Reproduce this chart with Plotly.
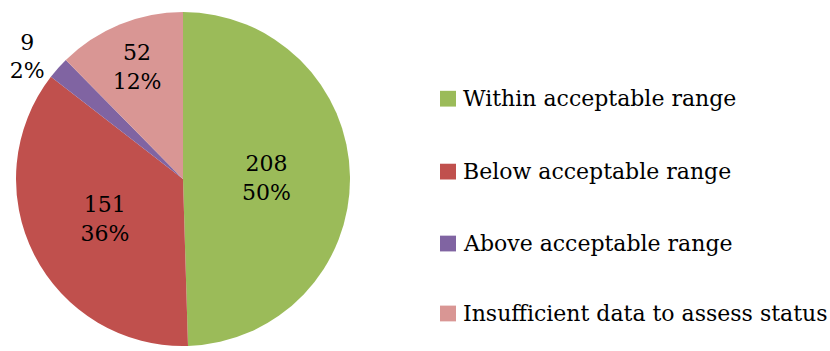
import plotly.graph_objects as go

labels = ["Within acceptable range", "Below acceptable range",
          "Above acceptable range", "Insufficient data to assess status"]
values = [208, 151, 9, 52]
colors = ["#9BBB59", "#C0504D", "#8064A2", "#D99694"]
text_positions = ["inside", "inside", "outside", "inside"]

W, H = 830, 351
M_TOP, M_BOT = 12, 0
plot_h = H - M_TOP - M_BOT


def py(ypx):
    return (H - M_BOT - ypx) / plot_h


fig = go.Figure()
fig.add_trace(go.Pie(
    labels=labels,
    values=values,
    sort=False,
    direction="clockwise",
    rotation=0,
    marker=dict(colors=colors, line=dict(width=0)),
    texttemplate="%{value}<br>%{percent:.0%}",
    textposition=text_positions,
    insidetextorientation="horizontal",
    textfont=dict(family="DejaVu Serif", size=22, color="black"),
    domain=dict(x=[13 / W, 353 / W], y=[0, 1]),
    showlegend=False,
    hoverinfo="label+value+percent",
))

# legend drawn beside the pie, one row per category
legend_rows_px = [100, 174, 247, 318]
shapes = []
annotations = []
for lab, col, ycen in zip(labels, colors, legend_rows_px):
    shapes.append(dict(type="rect", xref="paper", yref="paper",
                       x0=440 / W, x1=456 / W, y0=py(ycen + 8), y1=py(ycen - 8),
                       fillcolor=col, line=dict(width=0)))
    annotations.append(dict(text=lab, xref="paper", yref="paper",
                            x=461 / W, y=py(ycen), xanchor="left", yanchor="middle",
                            showarrow=False,
                            font=dict(family="DejaVu Serif", size=22, color="black")))

fig.update_layout(
    width=W, height=H,
    margin=dict(l=0, r=0, t=M_TOP, b=M_BOT),
    paper_bgcolor="white",
    plot_bgcolor="white",
    shapes=shapes,
    annotations=annotations,
)

fig.write_html("out.html")
